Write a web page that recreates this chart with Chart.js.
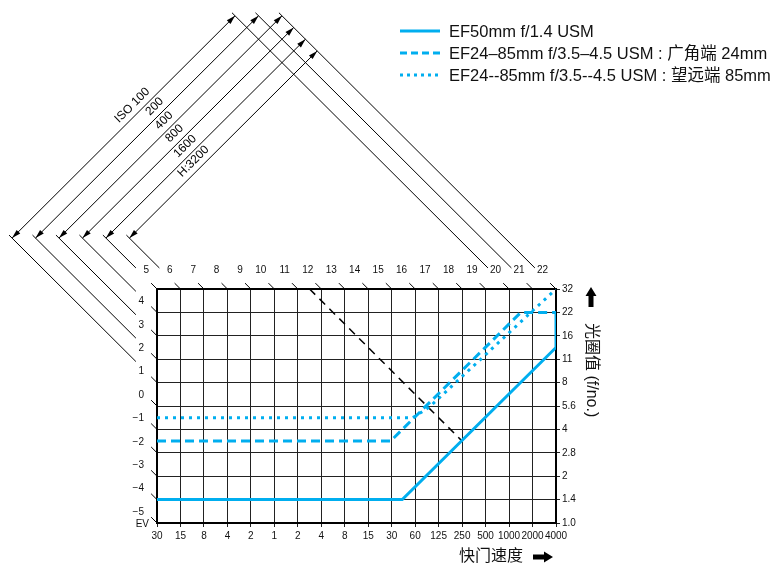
<!DOCTYPE html>
<html>
<head>
<meta charset="utf-8">
<script src="https://cdn.jsdelivr.net/npm/chart.js@4.4.1/dist/chart.umd.min.js"></script>
<style>
html, body { margin: 0; padding: 0; background: #fff; }
canvas { display: block; }
</style>
</head>
<body>
<canvas id="programChart" width="773" height="566"></canvas>
<script>
// axis labels
const shutterLabels = ['30', '15', '8', '4', '2', '1', '2', '4', '8', '15', '30', '60', '125', '250', '500', '1000', '2000', '4000'];
const apertureLabels = ['1.0', '1.4', '2', '2.8', '4', '5.6', '8', '11', '16', '22', '32'];
const evLeftLabels = ['−5', '−4', '−3', '−2', '−1', '0', '1', '2', '3', '4'];
const evTopLabels = ['5', '6', '7', '8', '9', '10', '11', '12', '13', '14', '15', '16', '17', '18', '19', '20', '21', '22'];

const lensNames = [
    'EF50mm f/1.4 USM',
    'EF24–85mm f/3.5–4.5 USM : 广角端 24mm',
    'EF24--85mm f/3.5--4.5 USM : 望远端 85mm'
];

// program lines in grid steps: Tv = shutter step (0 = 30"), Av = aperture step (0 = f/1.0)
const ef50Tv = [0, 10.45, 17, 17];
const ef50Av = [1, 1, 7.5, 9];
const wideTv = [0, 9.95, 15.5, 17];
const wideAv = [3.5, 3.5, 9, 9];
const teleTv = [0, 10.9, 11.6, 17];
const teleAv = [4.5, 4.5, 4.95, 10];
const guideTv = [6.5, 13];
const guideAv = [10, 3.5];

// metering range per ISO
const isoLabels = ['ISO 100', '200', '400', '800', '1600', 'H:3200'];
const isoMinEV = [1, 2, 3, 4, 5, 6];
const isoMaxEV = [20, 21, 22, 22, 22, 22];

const lensColor = '#00aeef';
const tickFont = {family: "'Liberation Sans Narrow', 'Liberation Sans', Arial, sans-serif", size: 10};
const GAP = {x: null, y: null};

const toPoints = (xs, ys) => xs.map((v, k) => ({x: v, y: ys[k]}));
// point on the EV line (Tv + Av = ev + 5) at lane c = Tv - Av
const evPoint = (ev, c) => ({x: (ev + 5 + c) / 2, y: (ev + 5 - c) / 2});
// where an EV line meets the left or top edge of the grid
const evEdge = ev => {
    const s = ev + 5;
    return s <= 10 ? {x: 0, y: s} : {x: s - 10, y: 10};
};
const outward = (p, d) => ({x: p.x - d, y: p.y + d});
const isoLane = n => isoMinEV[n] - 19.35;

const evValues = [...evLeftLabels, ...evTopLabels].map(t => Number(t.replace('−', '-')));

const isoArrowData = [];
isoMinEV.forEach((lo, n) => {
    isoArrowData.push(evPoint(lo, isoLane(n)), evPoint(isoMaxEV[n], isoLane(n)), GAP);
});

const extensionData = [];
isoMinEV.forEach((lo, n) => {
    extensionData.push(outward(evEdge(lo), 0.9), outward(evPoint(lo, isoLane(n)), 0.13), GAP);
});
[...new Set(isoMaxEV)].forEach(hi => {
    const far = Math.min(...isoMaxEV.map((h, n) => h === hi ? isoLane(n) : Infinity));
    extensionData.push(outward(evEdge(hi), 0.9), outward(evPoint(hi, far), 0.13), GAP);
});

const evTickData = [];
evValues.forEach(ev => {
    evTickData.push(evEdge(ev), outward(evEdge(ev), 0.25), GAP);
});

function arrowHead(ctx, fx, fy, tx, ty) {
    const a = Math.atan2(ty - fy, tx - fx), len = 9, half = 2.6;
    const bx = tx - len * Math.cos(a), by = ty - len * Math.sin(a);
    ctx.beginPath();
    ctx.moveTo(tx, ty);
    ctx.lineTo(bx + half * Math.sin(a), by - half * Math.cos(a));
    ctx.lineTo(bx - half * Math.sin(a), by + half * Math.cos(a));
    ctx.closePath();
    ctx.fill();
}

function blockArrow(ctx, x, y, dx, dy) {
    const len = 20, head = 9, shaft = 2.5, wing = 5.5;
    const pt = (a, b) => [x + dx * a - dy * b, y + dy * a + dx * b];
    const pts = [pt(0, -shaft), pt(len - head, -shaft), pt(len - head, -wing), pt(len, 0),
        pt(len - head, wing), pt(len - head, shaft), pt(0, shaft)];
    ctx.beginPath();
    pts.forEach(([px, py], k) => k ? ctx.lineTo(px, py) : ctx.moveTo(px, py));
    ctx.closePath();
    ctx.fill();
}

const isoLabelAt = [16.8, 17.7, 17.5, 17.4, 17.3, 17.0];
const legendDash = [[], [7, 4], [3, 4]];

const annotations = {
    id: 'annotations',
    afterDraw(chart) {
        const {ctx, chartArea: area, scales: {x, y}} = chart;
        const px = p => [x.getPixelForValue(p.x), y.getPixelForValue(p.y)];
        ctx.save();

        // arrowheads and ISO labels
        ctx.fillStyle = '#000';
        ctx.font = "12px 'Liberation Sans', Arial, sans-serif";
        ctx.textAlign = 'center';
        ctx.textBaseline = 'middle';
        isoMinEV.forEach((lo, n) => {
            const [ax, ay] = px(evPoint(lo, isoLane(n)));
            const [bx, by] = px(evPoint(isoMaxEV[n], isoLane(n)));
            arrowHead(ctx, bx, by, ax, ay);
            arrowHead(ctx, ax, ay, bx, by);
            const s = isoLabelAt[n], d = isoLane(n) - 0.55;
            const [lx, ly] = px({x: (s + d) / 2, y: (s - d) / 2});
            ctx.save();
            ctx.translate(lx, ly);
            ctx.rotate(Math.atan2(by - ay, bx - ax));
            ctx.fillText(isoLabels[n], 0, 0);
            ctx.restore();
        });

        // EV caption
        ctx.font = `${tickFont.size}px ${tickFont.family}`;
        ctx.textAlign = 'right';
        ctx.fillStyle = '#111';
        ctx.fillText('EV', area.left - 8, area.bottom + 1);

        // legend
        ctx.textAlign = 'left';
        ctx.font = "16.5px 'Liberation Sans', 'Noto Sans CJK SC', sans-serif";
        lensNames.forEach((name, n) => {
            const ly = 31 + n * 22;
            ctx.strokeStyle = lensColor;
            ctx.lineWidth = 3;
            ctx.setLineDash(legendDash[n]);
            ctx.beginPath();
            ctx.moveTo(400, ly);
            ctx.lineTo(440, ly);
            ctx.stroke();
            ctx.fillStyle = '#111';
            ctx.fillText(name, 449, ly + 1);
        });
        ctx.setLineDash([]);

        // axis titles
        ctx.font = "16px 'Liberation Sans', 'Noto Sans CJK SC', sans-serif";
        ctx.fillStyle = '#111';
        ctx.textAlign = 'right';
        ctx.fillText('快门速度', area.right - 33, area.bottom + 34);
        ctx.fillStyle = '#000';
        blockArrow(ctx, area.right - 23, area.bottom + 34, 1, 0);

        ctx.save();
        ctx.translate(area.right + 35, area.top + 34);
        ctx.rotate(Math.PI / 2);
        ctx.textAlign = 'left';
        ctx.fillStyle = '#111';
        ctx.fillText('光圈值 (f/no.)', 0, 0);
        ctx.restore();
        ctx.fillStyle = '#000';
        blockArrow(ctx, area.right + 35, area.top + 18, 0, -1);

        ctx.restore();
    }
};

const thinLine = {borderColor: '#000', borderWidth: 1, pointRadius: 0, tension: 0, clip: false, xAxisID: 'x', yAxisID: 'y'};

new Chart(document.getElementById('programChart'), {
    type: 'line',
    data: {
        datasets: [
            {label: lensNames[0], data: toPoints(ef50Tv, ef50Av), borderColor: lensColor, borderWidth: 3, pointRadius: 0, tension: 0, xAxisID: 'x', yAxisID: 'y'},
            {label: lensNames[1], data: toPoints(wideTv, wideAv), borderColor: lensColor, borderWidth: 3, borderDash: [9, 5], pointRadius: 0, tension: 0, xAxisID: 'x', yAxisID: 'y'},
            {label: lensNames[2], data: toPoints(teleTv, teleAv), borderColor: lensColor, borderWidth: 3, borderDash: [3, 5], pointRadius: 0, tension: 0, xAxisID: 'x', yAxisID: 'y'},
            {label: 'guide', data: toPoints(guideTv, guideAv), borderColor: '#000', borderWidth: 1.5, borderDash: [8, 6], pointRadius: 0, tension: 0, xAxisID: 'x', yAxisID: 'y'},
            {label: 'iso ranges', data: isoArrowData, ...thinLine},
            {label: 'ev extensions', data: extensionData, ...thinLine},
            {label: 'ev ticks', data: evTickData, ...thinLine}
        ]
    },
    options: {
        responsive: false,
        animation: false,
        events: [],
        devicePixelRatio: 1,
        layout: {padding: 0},
        plugins: {
            legend: {display: false},
            tooltip: {enabled: false}
        },
        scales: {
            x: {
                type: 'linear',
                position: 'bottom',
                min: 0,
                max: 17,
                afterFit: s => { s.height = 43; },
                ticks: {stepSize: 1, autoSkip: false, maxRotation: 0, padding: 3, color: '#111', font: tickFont,
                    callback: v => shutterLabels[v]},
                grid: {color: '#222', lineWidth: 1, tickLength: 4},
                border: {color: '#000', width: 2}
            },
            xTop: {
                type: 'linear',
                position: 'top',
                min: 0,
                max: 17,
                afterFit: s => { s.height = 289; },
                ticks: {stepSize: 1, autoSkip: false, maxRotation: 0, align: 'end', labelOffset: -8, padding: 5,
                    color: '#111', font: tickFont, callback: v => evTopLabels[v]},
                grid: {display: false},
                border: {color: '#000', width: 2}
            },
            y: {
                type: 'linear',
                position: 'right',
                min: 0,
                max: 10,
                afterFit: s => { s.width = 217; },
                ticks: {stepSize: 1, padding: 2, color: '#111', font: tickFont, callback: v => apertureLabels[v]},
                grid: {color: '#222', lineWidth: 1, tickLength: 4},
                border: {color: '#000', width: 2}
            },
            yLeft: {
                type: 'linear',
                position: 'left',
                min: 0,
                max: 10,
                afterFit: s => { s.width = 157; },
                ticks: {stepSize: 1, labelOffset: -11, padding: 5, color: '#111', font: tickFont,
                    callback: v => evLeftLabels[v] ?? ''},
                grid: {display: false},
                border: {color: '#000', width: 2}
            }
        }
    },
    plugins: [annotations]
});
</script>
</body>
</html>
